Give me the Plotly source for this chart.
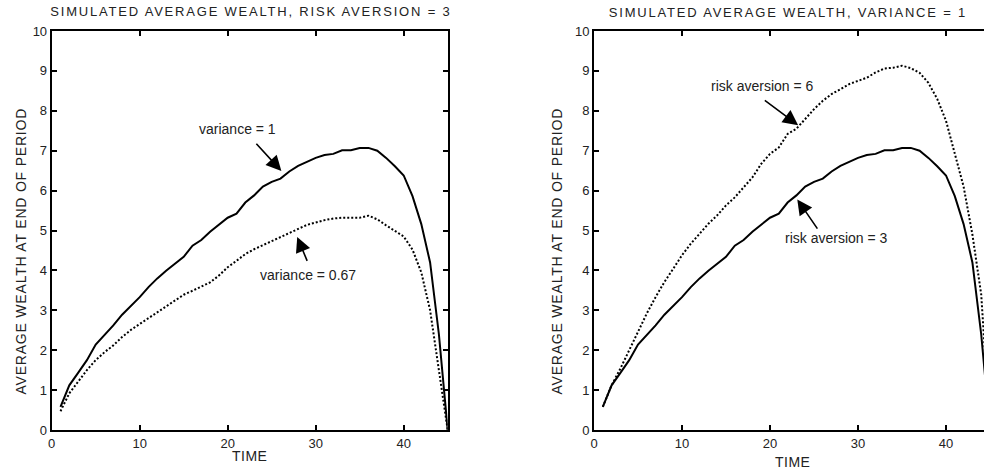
import plotly.graph_objects as go

# ---------------- data ----------------
time = [1, 2, 3, 4, 5, 6, 7, 8, 9, 10, 11, 12, 13, 14, 15, 16, 17, 18, 19, 20,
        21, 22, 23, 24, 25, 26, 27, 28, 29, 30, 31, 32, 33, 34, 35, 36, 37, 38, 39, 40,
        41, 42, 43, 44, 45]

# variance = 1, risk aversion = 3 (same simulation in both panels)
wealth_var1_ra3 = [0.58, 1.12, 1.43, 1.75, 2.14, 2.37, 2.62, 2.89, 3.10, 3.33,
                   3.58, 3.80, 3.99, 4.16, 4.34, 4.62, 4.76, 4.97, 5.14, 5.32,
                   5.42, 5.70, 5.88, 6.10, 6.22, 6.30, 6.48, 6.62, 6.72, 6.82,
                   6.89, 6.92, 7.01, 7.01, 7.07, 7.07, 7.00, 6.82, 6.61, 6.38,
                   5.86, 5.16, 4.20, 2.40, 0.00]

# variance = 0.67, risk aversion = 3
wealth_var067 = [0.47, 0.92, 1.21, 1.50, 1.75, 1.95, 2.12, 2.33, 2.51, 2.66,
                 2.79, 2.95, 3.10, 3.24, 3.39, 3.49, 3.59, 3.70, 3.87, 4.08,
                 4.24, 4.41, 4.53, 4.63, 4.74, 4.84, 4.95, 5.03, 5.14, 5.20,
                 5.26, 5.30, 5.32, 5.32, 5.32, 5.37, 5.28, 5.13, 4.99, 4.85,
                 4.52, 3.95, 3.00, 1.50, 0.00]

# variance = 1, risk aversion = 6
wealth_ra6 = [0.58, 1.12, 1.54, 2.00, 2.46, 2.92, 3.33, 3.71, 4.04, 4.38,
              4.67, 4.92, 5.17, 5.38, 5.63, 5.83, 6.08, 6.33, 6.67, 6.92,
              7.08, 7.42, 7.55, 7.79, 8.04, 8.25, 8.42, 8.54, 8.67, 8.75,
              8.83, 8.96, 9.06, 9.08, 9.13, 9.07, 8.95, 8.70, 8.30, 7.75,
              6.95, 6.10, 4.90, 3.40, 0.00]

x_ticks = [0, 10, 20, 30, 40]
y_ticks = [0, 1, 2, 3, 4, 5, 6, 7, 8, 9, 10]

left_title = "SIMULATED AVERAGE WEALTH, RISK AVERSION = 3"
right_title = "SIMULATED AVERAGE WEALTH, VARIANCE = 1"
y_title = "AVERAGE WEALTH AT END OF PERIOD"
x_title = "TIME"

# ---------------- figure ----------------
W, H = 984, 473
FONT = "Liberation Sans, Arial, sans-serif"
INK = "#000000"
TXT = "#222222"

fig = go.Figure()

solid = dict(color=INK, width=2)
dotted = dict(color=INK, width=2, dash="2px,2px")

fig.add_trace(go.Scatter(x=time, y=wealth_var1_ra3, mode="lines", line=solid,
                         xaxis="x", yaxis="y", name="variance = 1"))
fig.add_trace(go.Scatter(x=time, y=wealth_var067, mode="lines", line=dotted,
                         xaxis="x", yaxis="y", name="variance = 0.67"))
fig.add_trace(go.Scatter(x=time, y=wealth_ra6, mode="lines", line=dotted,
                         xaxis="x2", yaxis="y2", name="risk aversion = 6"))
fig.add_trace(go.Scatter(x=time, y=wealth_var1_ra3, mode="lines", line=solid,
                         xaxis="x2", yaxis="y2", name="risk aversion = 3"))


def px_x(p):
    return p / W


def px_y(p):
    return 1 - p / H


ydom = [px_y(430), px_y(31)]

axis_common = dict(showgrid=False, zeroline=False, showline=True, linecolor=INK,
                   linewidth=2, ticks="inside", ticklen=5, tickwidth=2,
                   tickcolor=INK, tickfont=dict(family=FONT, size=13, color=TXT),
                   automargin=False, fixedrange=True)

fig.update_layout(
    width=W, height=H,
    margin=dict(l=0, r=0, t=0, b=0),
    paper_bgcolor="white", plot_bgcolor="white",
    showlegend=False,
    font=dict(family=FONT, color=TXT),
    xaxis=dict(domain=[px_x(51.7), px_x(447.7)], range=[0, 45], tickvals=x_ticks,
               mirror="ticks", anchor="y", **axis_common),
    yaxis=dict(domain=ydom, range=[0, 10], tickvals=y_ticks, mirror="ticks",
               anchor="x", **axis_common),
    xaxis2=dict(domain=[px_x(594), 1.0], range=[0, (984 - 594) / 8.8], tickvals=x_ticks,
                mirror="ticks", anchor="y2", **axis_common),
    yaxis2=dict(domain=ydom, range=[0, 10], tickvals=y_ticks, mirror=False,
                anchor="x2", **axis_common),
)

ann = []


def txt(text, x, y, size, angle=0):
    ann.append(dict(text=text, x=px_x(x), y=px_y(y), xref="paper", yref="paper",
                    xanchor="center", yanchor="middle", showarrow=False,
                    textangle=angle, font=dict(family=FONT, size=size, color=TXT)))


txt(left_title, 251, 11, 13)
txt(right_title, 788, 13, 13)
txt(y_title, 20.7, 251.5, 14, -90)
txt(y_title, 556.7, 251.5, 14, -90)
txt(x_title, 249.5, 456, 14)
txt(x_title, 792.5, 461.7, 14)


def label(text, x, y, xr, yr):
    ann.append(dict(text=text, x=x, y=y, xref=xr, yref=yr, showarrow=False,
                    xanchor="center", yanchor="middle",
                    font=dict(family=FONT, size=14, color=TXT)))


def arrow(hx, hy, tx, ty, xr, yr):
    ann.append(dict(text="", x=hx, y=hy, ax=tx, ay=ty, xref=xr, yref=yr,
                    axref=xr, ayref=yr, showarrow=True, arrowhead=2,
                    arrowsize=1.9, arrowwidth=1.6, arrowcolor=INK))


label("variance = 1", 21.1, 7.54, "x", "y")
arrow(26.1, 6.49, 23.1, 7.21, "x", "y")
label("variance = 0.67", 29.1, 3.89, "x", "y")
arrow(27.9, 4.84, 29.1, 4.2, "x", "y")
label("risk aversion = 6", 19.15, 8.61, "x2", "y2")
arrow(23.2, 7.64, 19.24, 8.29, "x2", "y2")
label("risk aversion = 3", 27.5, 4.80, "x2", "y2")
arrow(23.1, 5.78, 25.5, 5.01, "x2", "y2")

fig.update_layout(annotations=ann)

post = """
document.documentElement.style.margin = '0';
document.body.style.margin = '0';
document.body.style.overflow = 'hidden';
var gd = document.getElementById('{plot_id}');
gd.querySelectorAll('text.annotation-text').forEach(function(t){
  var s = t.textContent;
  if (s.indexOf('SIMULATED') === 0) { t.style.letterSpacing = '1.8px'; }
  else if (s.indexOf('AVERAGE') === 0) { t.style.letterSpacing = '0.8px'; }
  else if (s.length > 0 && s === s.toUpperCase()) { t.style.letterSpacing = '0.5px'; }
});
"""

fig.write_html("out.html", post_script=post, config={"displayModeBar": False})
